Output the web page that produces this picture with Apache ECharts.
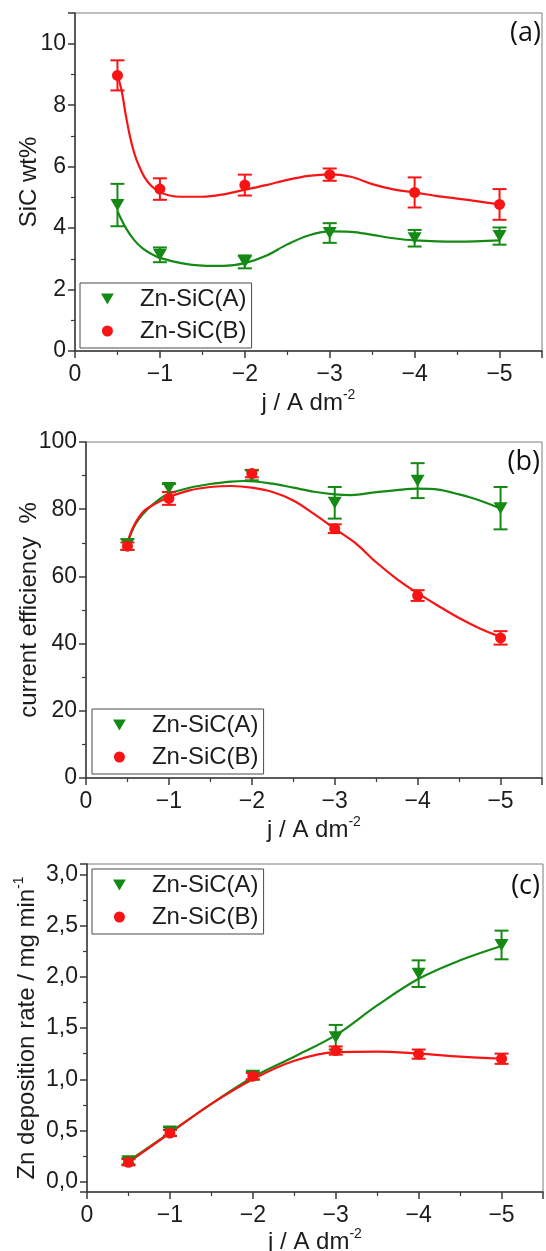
<!DOCTYPE html>
<html>
<head>
<meta charset="utf-8">
<script src="https://cdn.jsdelivr.net/npm/echarts@6/dist/echarts.min.js"></script>
<style>
  html, body { margin: 0; padding: 0; background: #fff; }
  #chart { width: 546px; height: 1251px; }
</style>
</head>
<body>
<div id="chart"></div>
<script>
// Current density j (A dm^-2) at which the coatings were deposited
const jValues = [-0.5, -1, -2, -3, -4, -5];
const jRange = [-5.5, 0];

// (a) SiC content of the deposit, wt%
const sicA = [4.75, 3.13, 2.90, 3.84, 3.67, 3.74];
const sicAErr = [0.69, 0.24, 0.21, 0.32, 0.27, 0.28];
const sicB = [8.97, 5.27, 5.40, 5.74, 5.16, 4.77];
const sicBErr = [0.49, 0.35, 0.34, 0.20, 0.49, 0.50];
const sicFitA = [[-0.5,4.55],[-0.6,4.0],[-0.7,3.6],[-0.8,3.33],[-0.9,3.16],[-1,3.03],[-1.25,2.86],[-1.5,2.78],[-1.75,2.77],[-2,2.86],[-2.25,3.1],[-2.5,3.47],[-2.75,3.76],[-3,3.89],[-3.25,3.88],[-3.5,3.78],[-3.75,3.67],[-4,3.6],[-4.5,3.56],[-5,3.6]];
const sicFitB = [[-0.5,9.0],[-0.55,8.46],[-0.6,7.65],[-0.65,6.95],[-0.7,6.42],[-0.75,6.05],[-0.82,5.65],[-0.9,5.37],[-1,5.17],[-1.1,5.07],[-1.25,5.02],[-1.5,5.02],[-1.75,5.1],[-2,5.25],[-2.25,5.4],[-2.5,5.57],[-2.75,5.7],[-3,5.75],[-3.25,5.67],[-3.5,5.43],[-3.75,5.26],[-4,5.16],[-4.25,5.05],[-4.5,4.96],[-4.75,4.87],[-5,4.77]];
const sicRange = [0, 11, 2];

// (b) current efficiency, %
const effA = [69.5, 86.3, 90.1, 81.9, 88.5, 80.3];
const effAErr = [1.6, 1.2, 1.5, 4.7, 5.2, 6.3];
const effB = [69.0, 83.2, 90.6, 74.2, 54.3, 41.7];
const effBErr = [1.1, 1.9, 1.1, 1.3, 1.6, 2.0];
const effFitA = [[-0.5,70],[-0.6,75.7],[-0.73,79.7],[-0.89,83.1],[-1,84.6],[-1.25,86.4],[-1.5,87.5],[-1.75,88.2],[-1.9,88.4],[-2.25,87.6],[-2.5,86.4],[-2.75,85.2],[-3,84.4],[-3.2,84.2],[-3.5,85.1],[-3.75,85.7],[-4,86.1],[-4.25,85.8],[-4.5,84.4],[-4.75,82.6],[-5,80.2]];
const effFitB = [[-0.5,70],[-0.57,74.7],[-0.69,79.2],[-0.85,81.8],[-1,83.6],[-1.25,85.6],[-1.5,86.6],[-1.75,86.9],[-2,86.4],[-2.25,85.1],[-2.5,82.6],[-2.75,78.6],[-3,74.2],[-3.25,69.9],[-3.5,64.2],[-3.75,59.2],[-4,55.0],[-4.25,51.2],[-4.5,47.6],[-4.75,44.5],[-5,42.0]];
const effRange = [0, 100, 20];

// (c) Zn deposition rate, mg min^-1
const rateA = [0.20, 0.49, 1.035, 1.41, 2.03, 2.31];
const rateAErr = [0.03, 0.04, 0.04, 0.12, 0.13, 0.14];
const rateB = [0.19, 0.475, 1.03, 1.28, 1.245, 1.20];
const rateBErr = [0.03, 0.03, 0.03, 0.04, 0.045, 0.05];
const rateFitA = [[-0.5,0.2],[-1,0.48],[-1.5,0.76],[-2,1.02],[-2.5,1.22],[-3,1.43],[-3.5,1.72],[-4,1.98],[-4.5,2.16],[-5,2.3]];
const rateFitB = [[-0.5,0.19],[-1,0.475],[-1.5,0.76],[-2,1.0],[-2.5,1.18],[-3,1.265],[-3.5,1.27],[-4,1.25],[-4.5,1.22],[-5,1.2]];
const rateRange = [-0.1, 3.1];

const seriesNames = ['Zn-SiC(A)', 'Zn-SiC(B)'];
const panelTags = ['(a)', '(b)', '(c)'];

const GREEN = '#148a14';
const RED = '#f81414';
const AXIS = '#3a3a3a';
const TEXT = '#1c1c1c';
const FONT = '"Liberation Sans", Arial, sans-serif';
const TRI = 'path://M0,0L14,0L7,12Z';

const grids = [
  { left: 75, right: 4, top: 13, height: 338 },
  { left: 86, right: 4, top: 442, height: 336 },
  { left: 87, right: 3, top: 864, height: 328 }
].map(g => Object.assign({ show: true, borderColor: '#7c7c7c', borderWidth: 1, outerBoundsMode: 'none' }, g));

function jLabel(v) {
  if (Math.abs(v - Math.round(v)) > 1e-6) return '';
  return v === 0 ? '0' : '\u2212' + Math.abs(v);
}

const supRich = { sup: { fontSize: 14, lineHeight: 30, verticalAlign: 'top', fontFamily: FONT, color: TEXT } };

function xAxisFor(gridIndex, nameGap) {
  return {
    type: 'value', gridIndex, min: jRange[0], max: jRange[1], inverse: true,
    axisLine: { onZero: false, lineStyle: { color: AXIS, width: 1.5 } },
    axisTick: { inside: false, length: 7, lineStyle: { color: AXIS, width: 1.5 } },
    minorTick: { show: true, splitNumber: 2, length: 4, lineStyle: { color: AXIS, width: 1.2 } },
    splitLine: { show: false },
    axisLabel: { margin: 12, fontSize: 23, fontFamily: FONT, color: TEXT, formatter: jLabel, showMinLabel: true, showMaxLabel: true },
    name: 'j / A dm{sup|-2}', nameLocation: 'middle', nameGap, nameMoveOverlap: false,
    nameTextStyle: { fontSize: 24, fontFamily: FONT, color: TEXT, rich: supRich }
  };
}

function yAxisFor(gridIndex, range, interval, name, nameGap, fmt) {
  const ax = {
    type: 'value', gridIndex, min: range[0], max: range[1],
    axisLine: { show: true, onZero: false, lineStyle: { color: AXIS, width: 1.5 } },
    axisTick: { show: true, inside: false, length: 7, lineStyle: { color: AXIS, width: 1.5 } },
    minorTick: { show: true, splitNumber: 2, length: 4, lineStyle: { color: AXIS, width: 1.2 } },
    splitLine: { show: false },
    axisLabel: { margin: 9, fontSize: 23, fontFamily: FONT, color: TEXT, formatter: fmt, showMinLabel: true, showMaxLabel: true },
    name, nameLocation: 'middle', nameGap, nameRotate: 90, nameMoveOverlap: false,
    nameTextStyle: { fontSize: 24, fontFamily: FONT, color: TEXT, rich: supRich }
  };
  if (interval) ax.interval = interval;
  return ax;
}

// error bar with caps, drawn through the axis scales
function errorBarRenderer(color) {
  return function (params, api) {
    const x = api.value(0);
    const top = api.coord([x, api.value(2)]);
    const bot = api.coord([x, api.value(1)]);
    const half = 7;
    const style = { stroke: color, lineWidth: 2 };
    return {
      type: 'group',
      children: [
        { type: 'line', shape: { x1: top[0], y1: top[1], x2: bot[0], y2: bot[1] }, style },
        { type: 'line', shape: { x1: top[0] - half, y1: top[1], x2: top[0] + half, y2: top[1] }, style },
        { type: 'line', shape: { x1: bot[0] - half, y1: bot[1], x2: bot[0] + half, y2: bot[1] }, style }
      ]
    };
  };
}

function group(gi, name, values, errs, fit, color, symbol, symbolSize) {
  return [
    {
      type: 'line', name: name + ' fit', xAxisIndex: gi, yAxisIndex: gi,
      data: fit, smooth: 0.35, showSymbol: false, silent: true,
      lineStyle: { color, width: 2.2 }, z: 2
    },
    {
      type: 'custom', name: name + ' error', xAxisIndex: gi, yAxisIndex: gi,
      data: jValues.map((j, i) => [j, values[i] - errs[i], values[i] + errs[i]]),
      encode: { x: 0, y: [1, 2] },
      renderItem: errorBarRenderer(color), silent: true, z: 3
    },
    {
      type: 'scatter', name, xAxisIndex: gi, yAxisIndex: gi,
      data: jValues.map((j, i) => [j, values[i]]),
      symbol, symbolSize, itemStyle: { color, opacity: 1 }, z: 4
    }
  ];
}

const TRI_SIZE = [14, 12];
const DOT_SIZE = 11;

const series = [].concat(
  group(0, seriesNames[0], sicA, sicAErr, sicFitA, GREEN, TRI, TRI_SIZE),
  group(0, seriesNames[1], sicB, sicBErr, sicFitB, RED, 'circle', DOT_SIZE),
  group(1, seriesNames[0], effA, effAErr, effFitA, GREEN, TRI, TRI_SIZE),
  group(1, seriesNames[1], effB, effBErr, effFitB, RED, 'circle', DOT_SIZE),
  group(2, seriesNames[0], rateA, rateAErr, rateFitA, GREEN, TRI, TRI_SIZE),
  group(2, seriesNames[1], rateB, rateBErr, rateFitB, RED, 'circle', DOT_SIZE)
);

function legendAt(left, top) {
  return {
    orient: 'vertical', left, top,
    data: [{ name: seriesNames[0], icon: TRI }, { name: seriesNames[1], icon: 'circle' }],
    itemWidth: 13, itemHeight: 11, itemGap: 8,
    padding: [4, 5, 5, 21],
    borderColor: '#4a4a4a', borderWidth: 1, backgroundColor: '#fff',
    selectedMode: false,
    textStyle: { fontSize: 24, lineHeight: 22, fontFamily: FONT, color: TEXT, padding: [0, 0, 0, 21] }
  };
}

const tagPos = [[541, 33], [540, 462], [540, 886]];

const option = {
  animation: false,
  backgroundColor: '#fff',
  grid: grids,
  xAxis: [xAxisFor(0, 37), xAxisFor(1, 37), xAxisFor(2, 35)],
  yAxis: [
    yAxisFor(0, sicRange, sicRange[2], 'SiC wt%', 34, v => (v % 2 === 0 ? String(v) : '')),
    yAxisFor(1, effRange, effRange[2], 'current efficiency  %', 45, v => (v % 20 === 0 ? String(v) : '')),
    yAxisFor(2, rateRange, null, 'Zn deposition rate / mg min{sup|-1}', 45, v => {
      const k = v * 2;
      return (v >= 0 && Math.abs(k - Math.round(k)) < 1e-6) ? v.toFixed(1).replace('.', ',') : '';
    })
  ],
  legend: [legendAt(80, 283), legendAt(92, 709), legendAt(92, 869)],
  graphic: panelTags.map((t, i) => ({
    type: 'text', x: tagPos[i][0], y: tagPos[i][1], z: 10,
    style: { text: t, font: '27px "Open Sans", sans-serif', fill: '#111', align: 'right', verticalAlign: 'middle' }
  })),
  series
};

const chart = echarts.init(document.getElementById('chart'), null, { renderer: 'canvas' });
chart.setOption(option);
</script>
</body>
</html>
